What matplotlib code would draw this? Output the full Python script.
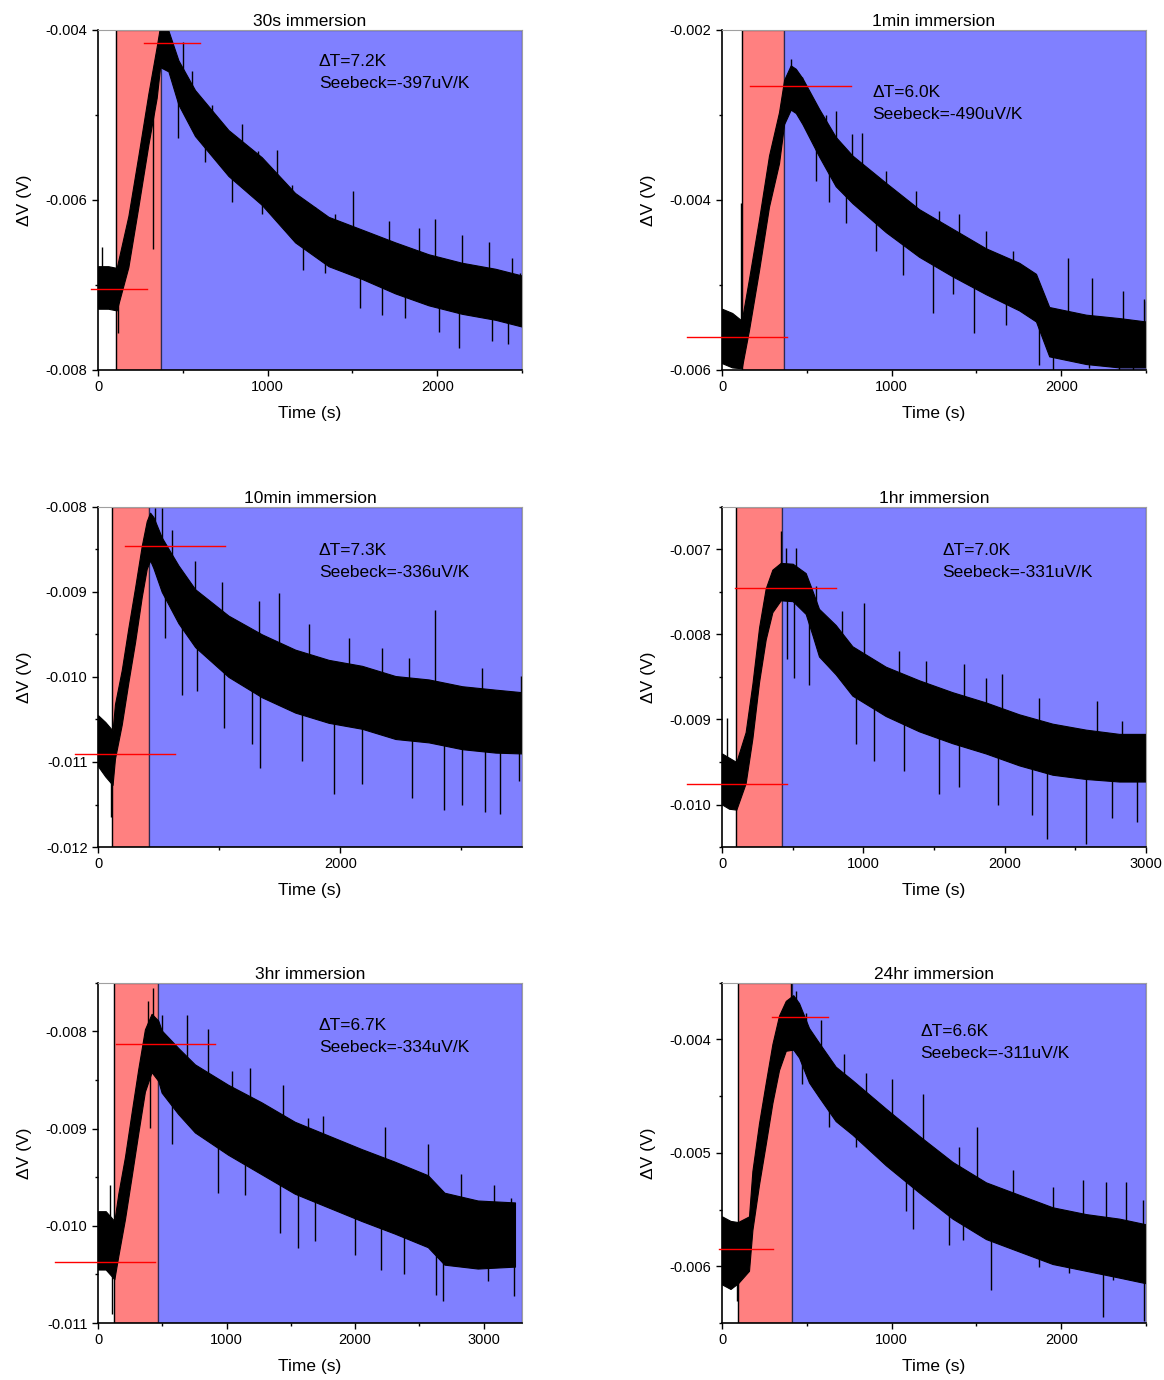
import numpy as np
import matplotlib
matplotlib.use("Agg")
import matplotlib.pyplot as plt
from matplotlib.ticker import MultipleLocator, FormatStrFormatter

plt.rcParams['font.family'] = ['Liberation Sans', 'DejaVu Sans']

# ---- data (time in s, voltage in mV) ----
titles = ["30s immersion", "1min immersion", "10min immersion",
          "1hr immersion", "3hr immersion", "24hr immersion"]
delta_T = ["7.2", "6.0", "7.3", "7.0", "6.7", "6.6"]
seebeck = ["-397", "-490", "-336", "-331", "-334", "-311"]

# heating window (red) start / end, s
red_start = [106, 116, 118, 101, 127, 94]
red_end = [372, 366, 424, 427, 464, 411]

# red reference lines: (level mV, x from, x to)
base_line = [(-7.05, -41, 289), (-5.61, -206, 383), (-10.91, -190, 636),
             (-9.76, -248, 460), (-10.37, -334, 443), (-5.85, -18, 300)]
peak_line = [(-4.16, 271, 602), (-2.66, 165, 761), (-8.46, 223, 1050),
             (-7.45, 92, 804), (-8.13, 137, 914), (-3.80, 293, 627)]

# trace: time, centre of noisy band, half width of dense band
t1 = [0, 60, 110, 179, 238, 297, 346, 366, 415, 474, 572, 769, 966, 1162, 1359, 1556, 1752, 1949, 2146, 2342, 2500]
mid1 = [-7.03, -7.03, -7.05, -6.49, -5.78, -5.05, -4.50, -4.20, -4.25, -4.62, -4.98, -5.45, -5.78, -6.21, -6.49, -6.64, -6.80, -6.94, -7.04, -7.11, -7.19]
half1 = [0.25, 0.25, 0.25, 0.3, 0.3, 0.3, 0.3, 0.24, 0.24, 0.26, 0.27, 0.27, 0.28, 0.29, 0.29, 0.29, 0.3, 0.3, 0.3, 0.3, 0.3]

t2 = [0, 60, 116, 159, 218, 277, 336, 366, 405, 435, 474, 572, 670, 769, 966, 1162, 1359, 1556, 1752, 1851, 1929, 2146, 2342, 2500]
mid2 = [-5.60, -5.65, -5.70, -5.23, -4.53, -3.78, -3.27, -2.85, -2.68, -2.72, -2.84, -3.21, -3.55, -3.76, -4.09, -4.39, -4.62, -4.84, -5.02, -5.15, -5.55, -5.64, -5.68, -5.70]
half2 = [0.32, 0.32, 0.28, 0.3, 0.3, 0.3, 0.3, 0.26, 0.26, 0.26, 0.27, 0.28, 0.29, 0.28, 0.29, 0.28, 0.28, 0.27, 0.28, 0.28, 0.29, 0.29, 0.29, 0.27]

t3 = [0, 60, 120, 140, 196, 251, 306, 361, 402, 430, 457, 526, 664, 802, 1077, 1353, 1628, 1904, 2179, 2455, 2730, 3006, 3281, 3500]
mid3 = [-10.75, -10.85, -10.95, -10.64, -10.24, -9.74, -9.27, -8.76, -8.45, -8.35, -8.42, -8.68, -9.03, -9.31, -9.64, -9.87, -10.05, -10.17, -10.24, -10.36, -10.40, -10.48, -10.52, -10.54]
half3 = [0.3, 0.32, 0.32, 0.32, 0.32, 0.32, 0.32, 0.3, 0.28, 0.28, 0.3, 0.32, 0.34, 0.34, 0.36, 0.37, 0.37, 0.37, 0.37, 0.37, 0.37, 0.37, 0.37, 0.36]

t4 = [0, 50, 101, 167, 215, 262, 309, 356, 415, 500, 592, 640, 686, 804, 922, 1158, 1394, 1630, 1866, 2102, 2338, 2574, 2810, 3000]
mid4 = [-9.70, -9.75, -9.78, -9.45, -8.90, -8.24, -7.76, -7.49, -7.38, -7.39, -7.52, -7.75, -7.98, -8.18, -8.43, -8.67, -8.84, -8.98, -9.10, -9.24, -9.35, -9.41, -9.45, -9.45]
half4 = [0.3, 0.3, 0.28, 0.3, 0.32, 0.32, 0.3, 0.25, 0.22, 0.22, 0.24, 0.26, 0.28, 0.29, 0.29, 0.29, 0.3, 0.3, 0.3, 0.3, 0.3, 0.29, 0.28, 0.28]

t5 = [0, 60, 127, 158, 210, 262, 313, 365, 417, 469, 495, 624, 754, 1013, 1272, 1531, 1790, 2049, 2308, 2567, 2696, 2955, 3245]
mid5 = [-10.15, -10.15, -10.25, -9.99, -9.61, -9.16, -8.72, -8.30, -8.12, -8.20, -8.31, -8.51, -8.69, -8.91, -9.10, -9.30, -9.44, -9.58, -9.71, -9.85, -10.03, -10.09, -10.09]
half5 = [0.3, 0.3, 0.3, 0.32, 0.32, 0.33, 0.33, 0.32, 0.3, 0.31, 0.32, 0.34, 0.35, 0.36, 0.37, 0.37, 0.37, 0.37, 0.37, 0.37, 0.37, 0.35, 0.33]

t6 = [0, 50, 94, 159, 179, 218, 258, 297, 336, 376, 420, 454, 513, 572, 670, 769, 966, 1162, 1359, 1556, 1752, 1949, 2146, 2342, 2500]
mid6 = [-5.86, -5.90, -5.88, -5.80, -5.42, -5.01, -4.65, -4.30, -4.03, -3.88, -3.85, -3.92, -4.14, -4.27, -4.48, -4.60, -4.86, -5.10, -5.33, -5.51, -5.62, -5.73, -5.79, -5.84, -5.89]
half6 = [0.3, 0.3, 0.27, 0.24, 0.26, 0.27, 0.27, 0.26, 0.24, 0.22, 0.24, 0.24, 0.24, 0.24, 0.24, 0.24, 0.25, 0.25, 0.25, 0.25, 0.25, 0.25, 0.25, 0.26, 0.26]

# single-sample spikes sticking out of the band (time, tip in mV)
spk_t1 = [22, 120, 326, 503, 631, 788, 1054, 1211, 1506, 1546, 1811, 1988, 2126, 2323, 2490,
          395, 435, 553, 671, 848, 946, 1143, 1279, 1398, 1713, 1890, 2146, 2303, 2440,
          474, 966, 1339, 1673, 2010, 2420]
spk_v1 = [-6.55, -7.56, -6.58, -4.15, -5.56, -6.02, -5.41, -6.82, -5.90, -7.27, -7.39, -6.23, -7.74, -7.66, -6.86,
          -4.13, -4.37, -4.49, -4.88, -5.11, -5.43, -5.82, -6.09, -6.17, -6.25, -6.33, -6.41, -6.49, -6.68,
          -5.27, -6.17, -6.86, -7.35, -7.55, -7.70]
spk_t2 = [110, 405, 553, 828, 907, 1241, 1280, 1487, 1870, 1949, 2037, 2165, 2490,
          474, 612, 670, 769, 966, 1143, 1398, 1556, 1713, 2180, 2362, 2500,
          631, 730, 1064, 1359, 1673, 2342, 2421]
spk_v2 = [-4.04, -2.35, -3.78, -3.21, -4.60, -5.33, -4.13, -5.56, -5.94, -6.00, -4.68, -5.98, -5.17,
          -2.56, -3.00, -2.96, -3.23, -3.66, -3.90, -4.17, -4.37, -4.60, -4.92, -5.07, -5.19,
          -4.02, -4.27, -4.88, -5.11, -5.47, -6.00, -6.00]
spk_t3 = [107, 526, 691, 1036, 1339, 1490, 1945, 2565, 2785, 2854, 3198, 3322, 3488,
          471, 609, 802, 1022, 1325, 1738, 2069, 2344, 3171,
          554, 820, 1270, 1683, 2179, 2592, 3006, 3474]
spk_v3 = [-11.65, -8.02, -10.21, -10.60, -11.07, -9.01, -11.38, -9.78, -9.21, -11.57, -11.59, -11.61, -9.99,
          -8.02, -8.27, -8.64, -8.88, -9.11, -9.38, -9.54, -9.66, -9.89,
          -9.54, -10.17, -10.79, -10.99, -11.26, -11.42, -11.50, -11.22]
spk_t4 = [38, 415, 510, 1005, 1076, 1288, 1713, 1949, 1984, 2302, 2574, 2656, 2939,
          451, 521, 663, 852, 1253, 1441, 1866, 2243, 2833,
          460, 616, 946, 1536, 1677, 2196, 2762]
spk_v4 = [-8.98, -6.78, -8.51, -7.63, -9.49, -9.61, -8.35, -10.00, -8.47, -10.41, -10.47, -8.78, -10.20,
          -6.98, -6.98, -7.43, -7.73, -8.20, -8.31, -8.51, -8.75, -9.02,
          -8.29, -8.59, -9.29, -9.88, -9.80, -10.12, -10.16]
spk_t5 = [93, 106, 430, 857, 935, 1414, 1557, 1751, 2204, 2567, 2631, 2683, 3085, 3240,
          391, 495, 689, 1039, 1181, 1440, 1634, 2230, 2826, 3214,
          404, 572, 1142, 1686, 2000, 2385, 3033]
spk_v5 = [-9.58, -10.91, -7.55, -7.98, -9.66, -10.07, -10.23, -8.87, -10.45, -9.16, -10.71, -10.77, -9.58, -10.72,
          -7.69, -7.83, -7.83, -8.41, -8.38, -8.55, -8.89, -8.98, -9.47, -9.71,
          -8.99, -9.16, -9.68, -10.16, -10.30, -10.50, -10.57]
spk_t6 = [90, 405, 631, 1005, 1123, 1339, 1506, 1585, 2126, 2244, 2381, 2490,
          435, 494, 582, 720, 848, 1182, 1398, 1713, 1949, 2264, 2480,
          474, 789, 1084, 1418, 1870, 2047, 2303]
spk_v6 = [-6.31, -3.49, -4.77, -4.35, -5.67, -5.81, -4.77, -6.21, -5.24, -6.45, -5.26, -6.48,
          -3.57, -3.77, -3.83, -4.13, -4.30, -4.48, -4.95, -5.15, -5.30, -5.26, -5.42,
          -4.39, -4.95, -5.51, -5.77, -6.01, -6.06, -6.12]

traces = [(t1, mid1, half1, spk_t1, spk_v1), (t2, mid2, half2, spk_t2, spk_v2),
          (t3, mid3, half3, spk_t3, spk_v3), (t4, mid4, half4, spk_t4, spk_v4),
          (t5, mid5, half5, spk_t5, spk_v5), (t6, mid6, half6, spk_t6, spk_v6)]

# axis setup per panel
xlims = [(0, 2500), (0, 2500), (0, 3500), (0, 3000), (0, 3300), (0, 2500)]
xmaj = [1000, 1000, 2000, 1000, 1000, 1000]
xmin = [500, 500, 1000, 500, 500, 500]
ylims = [(-0.008, -0.004), (-0.006, -0.002), (-0.012, -0.008),
         (-0.0105, -0.0065), (-0.011, -0.0075), (-0.0065, -0.0035)]
ymaj = [0.002, 0.002, 0.001, 0.001, 0.001, 0.001]
ymin = [0.001, 0.001, 0.0005, 0.0005, 0.0005, 0.0005]
text_pos = [(0.521, 0.928), (0.354, 0.838), (0.521, 0.893), (0.519, 0.893), (0.521, 0.896), (0.467, 0.88)]

fig = plt.figure(figsize=(11.64, 13.8), dpi=100)
lefts = [0.0842, 0.6203]
bottoms = [0.7319, 0.3862, 0.0413]
w, h = 0.3643, 0.2466

for i in range(6):
    ax = fig.add_axes([lefts[i % 2], bottoms[i // 2], w, h])
    x0, x1 = xlims[i]
    ax.axvspan(red_start[i], red_end[i], color='#FF8080', ec='#3a1f2f', lw=0.9, zorder=0)
    ax.axvspan(red_end[i], x1, color='#8080FF', ec='#2a2a55', lw=0.9, zorder=0)
    ax.axvline(red_start[i], color='k', lw=0.9, zorder=0.5)

    t, mid, half, st, sv = traces[i]
    t = np.array(t)
    mid = np.array(mid) * 1e-3
    half = np.array(half) * 1e-3
    ax.fill_between(t, mid - half, mid + half, color='k', lw=0.8, zorder=2)
    base = np.interp(st, t, mid)
    ax.vlines(st, base, np.array(sv) * 1e-3, color='k', lw=1.0, zorder=2)

    lv, la, lb = base_line[i]
    ax.plot([la, lb], [lv * 1e-3] * 2, color='red', lw=1.0, zorder=3, clip_on=False)
    lv, la, lb = peak_line[i]
    ax.plot([la, lb], [lv * 1e-3] * 2, color='red', lw=1.0, zorder=3, clip_on=False)

    ax.text(text_pos[i][0], text_pos[i][1],
            "\u0394T=" + delta_T[i] + "K\nSeebeck=" + seebeck[i] + "uV/K",
            transform=ax.transAxes, fontsize=12.5, va='top', ha='left', linespacing=1.6)

    ax.set_xlim(x0, x1)
    ax.set_ylim(*ylims[i])
    ax.xaxis.set_major_locator(MultipleLocator(xmaj[i]))
    ax.xaxis.set_minor_locator(MultipleLocator(xmin[i]))
    ax.yaxis.set_major_locator(MultipleLocator(ymaj[i]))
    ax.yaxis.set_minor_locator(MultipleLocator(ymin[i]))
    ax.yaxis.set_major_formatter(FormatStrFormatter('%.3f'))
    ax.xaxis.set_major_formatter(FormatStrFormatter('%d'))
    ax.tick_params(which='both', direction='out', labelsize=10.5, width=1.0)
    ax.tick_params(which='major', length=4)
    ax.tick_params(which='minor', length=2.5)
    for s in ['top', 'right']:
        ax.spines[s].set_color('#a0a0a0')
        ax.spines[s].set_linewidth(0.8)
    for s in ['left', 'bottom']:
        ax.spines[s].set_linewidth(1.2)

    ax.set_title(titles[i], fontsize=12.5, pad=3)
    ax.set_xlabel("Time (s)", fontsize=12.5, labelpad=8)
    ax.set_ylabel("\u0394V (V)", fontsize=12.5, labelpad=10)

fig.savefig("out.png", dpi=100)
